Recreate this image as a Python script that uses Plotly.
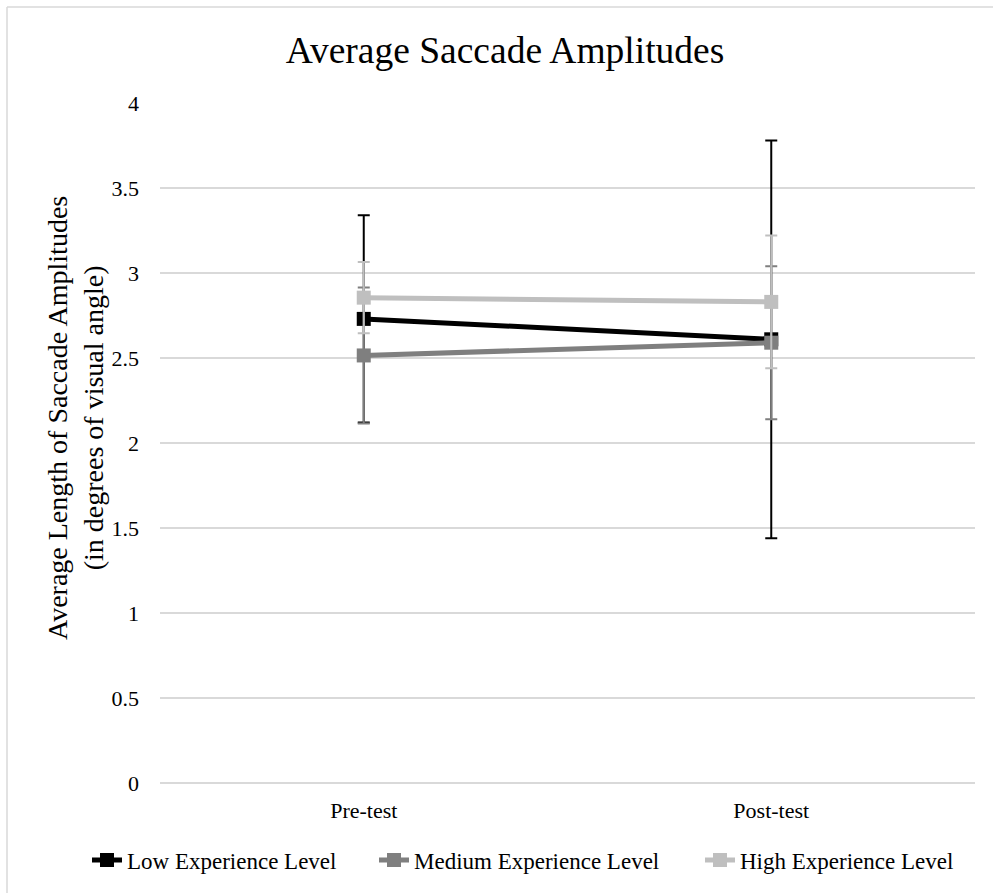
import plotly.graph_objects as go

categories = ["Pre-test", "Post-test"]
series_names = ["Low Experience Level", "Medium Experience Level", "High Experience Level"]
low_vals = [2.73, 2.61]
low_err = [0.61, 1.17]
med_vals = [2.515, 2.59]
med_err = [0.40, 0.45]
high_vals = [2.855, 2.83]
high_err = [0.21, 0.39]
y_ticks = [0, 0.5, 1, 1.5, 2, 2.5, 3, 3.5, 4]

colors = ["#000000", "#7f7f7f", "#bfbfbf"]
font_family = "Liberation Serif, Times New Roman, serif"

W, H = 993, 893
PL, PR, PT, PB = 160, 975, 103, 783  # plot area in screenshot pixels
L, R, T, B = PL, W - PR, PT, H - PB
pw, ph = PR - PL, PB - PT

def px(x):
    return (x - PL) / pw

def py(y):
    return (PB - y) / ph

legend_names = ["legend", "legend2", "legend3"]
legend_x = [87, 374, 700]

fig = go.Figure()
xs = list(range(len(categories)))
for name, vals, errs, c, lg in zip(series_names, [low_vals, med_vals, high_vals],
                                   [low_err, med_err, high_err], colors, legend_names):
    fig.add_trace(go.Scatter(
        x=xs, y=vals, name=name, mode="lines+markers",
        line=dict(color=c, width=5),
        marker=dict(symbol="square", size=14, color=c),
        error_y=dict(type="data", array=errs, visible=True, color=c, thickness=2, width=6),
        legend=lg,
    ))

legend_common = dict(orientation="h", xanchor="left", yanchor="middle", y=py(860),
                     font=dict(size=23, family=font_family), bgcolor="rgba(0,0,0,0)")

border = dict(color="#d9d9d9", width=1.5)

fig.update_layout(
    width=W, height=H,
    margin=dict(l=L, r=R, t=T, b=B, autoexpand=False),
    plot_bgcolor="white", paper_bgcolor="white",
    font=dict(family=font_family, color="#000000"),
    title=dict(text="Average Saccade Amplitudes", x=505 / W, xanchor="center", xref="container",
               y=1 - 50 / H, yanchor="middle", font=dict(size=37.5, family=font_family)),
    xaxis=dict(range=[-0.5, 1.5], tickmode="array", tickvals=xs, ticktext=categories,
               showgrid=False, zeroline=False, showline=False, ticks="",
               tickfont=dict(size=22, family=font_family), ticklabelstandoff=12),
    yaxis=dict(range=[0, 4], tickmode="array", tickvals=y_ticks,
               ticktext=[f"{v:g}" for v in y_ticks],
               showgrid=True, gridcolor="#d9d9d9", gridwidth=1.5,
               zeroline=True, zerolinecolor="#d9d9d9", zerolinewidth=1.5,
               showline=False, ticks="",
               tickfont=dict(size=22, family=font_family), ticklabelstandoff=20),
    legend=dict(x=px(legend_x[0]), **legend_common),
    legend2=dict(x=px(legend_x[1]), **legend_common),
    legend3=dict(x=px(legend_x[2]), **legend_common),
    showlegend=True,
    annotations=[dict(
        text="Average Length of Saccade Amplitudes<br>(in degrees of visual angle)",
        xref="paper", yref="paper", x=px(75), y=py(418), xanchor="center", yanchor="middle",
        textangle=-90, showarrow=False, font=dict(size=28, family=font_family),
    )],
    shapes=[
        dict(type="line", xref="paper", yref="paper", x0=px(7), x1=px(W), y0=py(7), y1=py(7),
             line=border, layer="below"),
        dict(type="line", xref="paper", yref="paper", x0=px(7), x1=px(7), y0=py(7), y1=py(H),
             line=border, layer="below"),
    ],
)

fig.write_html("out.html", config={"displayModeBar": False},
               post_script="document.body.style.margin='0';")
